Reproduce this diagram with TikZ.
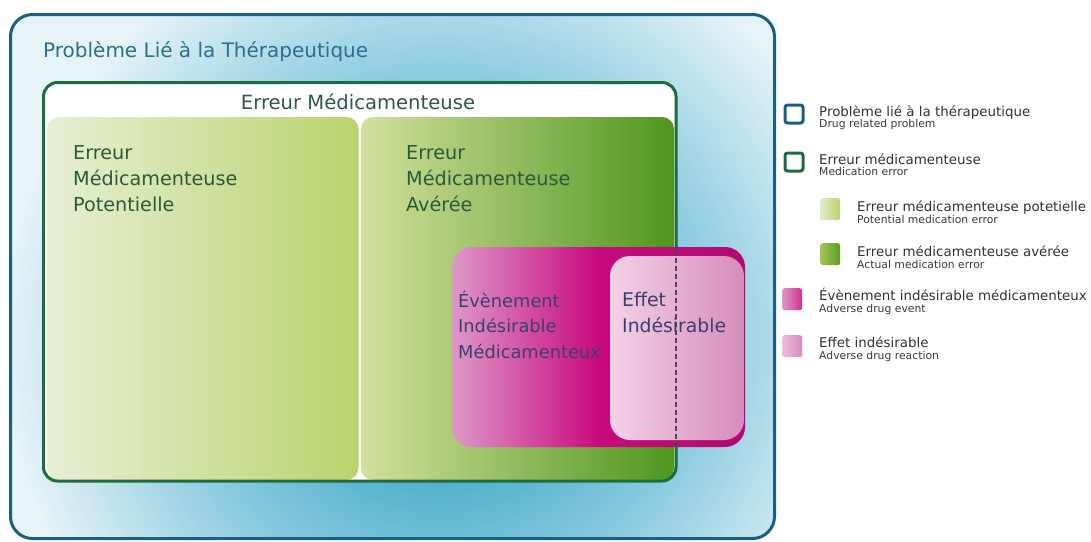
\documentclass[tikz,border=0pt]{standalone}
\usepackage{fontspec}
\setmainfont{DejaVu Sans}
\definecolor{glowA}{HTML}{3AA5C6}
\definecolor{glowB}{HTML}{8FCDE1}
\definecolor{glowC}{HTML}{E6F3F7}
\definecolor{outerborder}{HTML}{1B5F7E}
\definecolor{titleblue}{HTML}{2A6F8E}
\definecolor{greenborder}{HTML}{1D6B40}
\definecolor{greentitle}{HTML}{2F5A44}
\definecolor{greentext}{HTML}{2A5A3A}
\definecolor{pinktext}{HTML}{3C3F6E}
\definecolor{legtext}{HTML}{333333}
\definecolor{legsubtext}{HTML}{3A3A3A}
\definecolor{potL}{HTML}{E7EFD4}
\definecolor{potR}{HTML}{BAD36C}
\definecolor{actL}{HTML}{D3E09C}
\definecolor{actM}{HTML}{A3C655}
\definecolor{actR}{HTML}{4F961F}
\definecolor{adeL}{HTML}{DD98C8}
\definecolor{adeM}{HTML}{C80A7E}
\definecolor{adeR}{HTML}{B00A70}
\definecolor{effL}{HTML}{F2D2E6}
\definecolor{effR}{HTML}{D68CBC}
\definecolor{dashcol}{HTML}{3E4A55}
\pgfdeclareradialshading{outerglow}{\pgfpoint{0bp}{0bp}}{color(0bp)=(glowA); color(4bp)=(glowA); color(13bp)=(glowB); color(21bp)=(glowC); color(25bp)=(glowC); color(50bp)=(glowC)}
\pgfdeclarehorizontalshading{adeshade}{100bp}{color(0bp)=(adeL); color(25bp)=(adeL); color(50bp)=(adeM); color(75bp)=(adeR); color(100bp)=(adeR)}
\begin{document}
\begin{tikzpicture}[x=1pt,y=-1pt,
  greenlines/.style={anchor=base west, inner sep=0pt, align=left, text=greentext, font=\fontsize{19.2}{26}\selectfont},
  pinklines/.style={anchor=base west, inner sep=0pt, align=left, text=pinktext, font=\fontsize{17.8}{25.5}\selectfont},
  legtitle/.style={anchor=base west, inner sep=0pt, text=legtext, font=\fontsize{13.4}{16}\selectfont},
  legsub/.style={anchor=base west, inner sep=0pt, text=legsubtext, font=\fontsize{10.8}{13}\selectfont},
  legfill/.style={minimum width=20pt, minimum height=22pt, inner sep=0pt, anchor=north west, rounded corners=2.5pt},
  legout/.style={minimum width=18pt, minimum height=18pt, inner sep=0pt, anchor=north west, rounded corners=2.5pt, line width=3pt, fill=white},
]
\useasboundingbox (0,0) rectangle (1091,541);
\fill[white] (0,0) rectangle (1091,541);

% outer box: drug related problem
\begin{scope}
\clip[rounded corners=22pt] (10.5,14.5) rectangle (774.5,538.5);
\fill[glowC] (0,0) rectangle (800,541);
\shade[shading=outerglow] (440,340) circle (520);
\end{scope}
\draw[outerborder, line width=3pt, rounded corners=22pt] (10.5,14.5) rectangle (774.5,538.5);
\node[anchor=base west, inner sep=0pt, text=titleblue, font=\fontsize{20}{24}\selectfont] (probtitle) at (43,57) {Problème Lié à la Thérapeutique};

% medication error box
\fill[white, rounded corners=14pt] (43.5,82.5) rectangle (676,481);
\shade[left color=potL, right color=potR, rounded corners=12pt] (47,117) rectangle (358.5,480);
\shade[left color=actL, middle color=actM, right color=actR, rounded corners=12pt] (361,117) rectangle (674,480);
\draw[greenborder, line width=3pt, rounded corners=14pt] (43.5,82.5) rectangle (676,481);
\node[anchor=base, inner sep=0pt, text=greentitle, font=\fontsize{19.6}{24}\selectfont] (metitle) at (358,109) {Erreur Médicamenteuse};
\node[greenlines] (pottext) at (73,211) {Erreur\\Médicamenteuse\\Potentielle};
\node[greenlines] (acttext) at (406,211) {Erreur\\Médicamenteuse\\Avérée};

% adverse drug event / reaction
\shade[shading=adeshade, rounded corners=20pt] (452,247) rectangle (745,447);
\shade[left color=effL, right color=effR, rounded corners=20pt] (610,256) rectangle (744,440);
\coordinate (dtop) at (676,250);
\coordinate (dbot) at (676,447);
\draw[dashcol, line width=2.2pt, dash pattern=on 5pt off 3pt] (dtop) -- (dbot);
\node[pinklines] (adetext) at (458,358) {Évènement\\Indésirable\\Médicamenteux};
\node[pinklines, font=\fontsize{18.8}{25.5}\selectfont] (efftext) at (622,332) {Effet\\Indésirable};

% legend
\node[legout, draw=outerborder] (sq1) at (783.5,103.5) {};
\node[legtitle] (lt1) at (819,116) {Problème lié à la thérapeutique};
\node[legsub] (ls1) at (819,127) {Drug related problem};

\node[legout, draw=greenborder] (sq2) at (783.5,151.5) {};
\node[legtitle] (lt2) at (819,164) {Erreur médicamenteuse};
\node[legsub] (ls2) at (819,175) {Medication error};

\node[legfill, left color=potL!90!potR, right color=potR] (sq3) at (820,198) {};
\node[legtitle] (lt3) at (857,211) {Erreur médicamenteuse potetielle};
\node[legsub] (ls3) at (857,223) {Potential medication error};

\node[legfill, left color=actM, right color=actR!85!actM] (sq4) at (820,243) {};
\node[legtitle] (lt4) at (857,256) {Erreur médicamenteuse avérée};
\node[legsub] (ls4) at (857,268) {Actual medication error};

\node[legfill, left color=adeL, right color=adeM!85!white] (sq5) at (782,288) {};
\node[legtitle] (lt5) at (819,300) {Évènement indésirable médicamenteux};
\node[legsub] (ls5) at (819,312) {Adverse drug event};

\node[legfill, left color=effL!70!effR, right color=effR] (sq6) at (782,335) {};
\node[legtitle] (lt6) at (819,347) {Effet indésirable};
\node[legsub] (ls6) at (819,359) {Adverse drug reaction};
\end{tikzpicture}
\end{document}
